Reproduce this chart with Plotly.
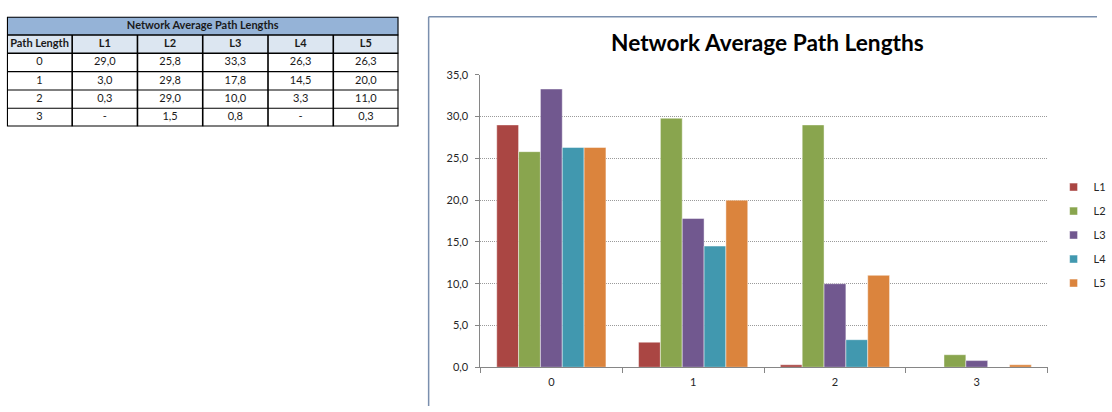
import plotly.graph_objects as go

# ---- data ----
path_lengths = ["0", "1", "2", "3"]
series_names = ["L1", "L2", "L3", "L4", "L5"]
L1 = [29.0, 3.0, 0.3, 0.0]
L2 = [25.8, 29.8, 29.0, 1.5]
L3 = [33.3, 17.8, 10.0, 0.8]
L4 = [26.3, 14.5, 3.3, 0.0]
L5 = [26.3, 20.0, 11.0, 0.3]
series_values = [L1, L2, L3, L4, L5]
colors = ["#AA4643", "#89A54E", "#71588F", "#4198AF", "#DB843D"]

TITLE = "Network Average Path Lengths"
FIRST_COL = "Path Length"
FONT = "Lato"
W, H = 1112, 412


def px_x(x):
    return x / W


def px_y(y):
    return 1 - y / H


def fmt(v):
    # accounting style: zero shown as a dash, comma as decimal mark
    return "-" if v == 0 else f"{v:.1f}".replace(".", ",")


fig = go.Figure()

# ---- bars ----
for name, vals, col in zip(series_names, series_values, colors):
    fig.add_trace(go.Bar(
        x=path_lengths, y=vals, name=name, showlegend=False,
        marker=dict(color=col, line=dict(color="rgba(255,255,255,0.45)", width=1)),
        xaxis="x", yaxis="y",
    ))

# legend entries with small square swatches
for name, col in zip(series_names, colors):
    fig.add_trace(go.Scatter(
        x=[None], y=[None], mode="markers", name=name,
        legendgroup=name,
        marker=dict(symbol="square", size=8, color=col,
                    line=dict(color="rgba(255,255,255,0.5)", width=1)),
        xaxis="x", yaxis="y",
    ))

# ---- data table on its own grid axes (column = x unit, row = y unit) ----
n_cols = 1 + len(series_names)
n_rows = 2 + len(path_lengths)          # title row, header row, data rows
columns = [path_lengths] + [[fmt(v) for v in vals] for vals in series_values]
heads = [FIRST_COL] + series_names

tx, ty, tt = [], [], []
for c, (head, col) in enumerate(zip(heads, columns)):
    tx.append(c + 0.5); ty.append(1.5); tt.append(f"<b>{head}</b>")
    for r, val in enumerate(col):
        tx.append(c + 0.5); ty.append(r + 2.5); tt.append(val)
tx.append(n_cols / 2); ty.append(0.5); tt.append(f"<b>{TITLE}</b>")

fig.add_trace(go.Scatter(
    x=tx, y=ty, text=tt, mode="text", showlegend=False, hoverinfo="skip",
    textfont=dict(family=FONT, size=11, color="#1a1a1a"),
    xaxis="x2", yaxis="y2",
))

tbl = dict(xref="x2", yref="y2", layer="above")
shapes = [
    dict(type="rect", x0=0, x1=n_cols, y0=0, y1=1, fillcolor="#95B3D7",
         line=dict(width=0), xref="x2", yref="y2", layer="below"),
    dict(type="rect", x0=0, x1=n_cols, y0=1, y1=2, fillcolor="#DCE6F1",
         line=dict(width=0), xref="x2", yref="y2", layer="below"),
]
for c in range(1, n_cols):
    shapes.append(dict(type="line", x0=c, x1=c, y0=1, y1=n_rows,
                       line=dict(color="black", width=1.6), **tbl))
for r in range(1, n_rows):
    shapes.append(dict(type="line", x0=0, x1=n_cols, y0=r, y1=r,
                       line=dict(color="black", width=1.6 if r <= 2 else 1.1), **tbl))
shapes.append(dict(type="rect", x0=0, x1=n_cols, y0=0, y1=n_rows,
                   line=dict(color="black", width=2.2), **tbl))

# chart frame (left and top edges run out of view)
frame = dict(color="#7A8FAE", width=1.5)
shapes += [
    dict(type="line", xref="paper", yref="paper",
         x0=px_x(434.5), x1=px_x(434.5), y0=0, y1=px_y(10), line=frame),
    dict(type="line", xref="paper", yref="paper",
         x0=px_x(434.5), x1=1, y0=px_y(10), y1=px_y(10), line=frame),
]

annotations = [
    dict(text=f"<b>{TITLE}</b>", xref="paper", yref="paper",
         x=px_x(778), y=px_y(37), showarrow=False,
         xanchor="center", yanchor="middle",
         font=dict(family=FONT, size=22.7, color="black")),
]

axis_col = "#868686"
hidden = dict(visible=False, showgrid=False, zeroline=False, fixedrange=True)
fig.update_layout(
    width=W, height=H, autosize=False,
    margin=dict(l=0, r=0, t=0, b=0),
    paper_bgcolor="white", plot_bgcolor="rgba(0,0,0,0)",
    separators=",.",
    font=dict(family=FONT, size=11, color="#262626"),
    barmode="group", bargap=0.23, bargroupgap=0,
    shapes=shapes, annotations=annotations,
    xaxis=dict(
        domain=[px_x(487), px_x(1062)],
        type="category", categoryorder="array", categoryarray=path_lengths,
        showline=True, linecolor=axis_col, linewidth=1,
        ticks="outside", tickson="boundaries", ticklen=5, tickcolor=axis_col,
        ticklabelstandoff=5,
        showgrid=False, tickfont=dict(size=11, color="#262626"),
    ),
    yaxis=dict(
        domain=[px_y(372), px_y(70)],
        range=[0, 35], dtick=5, tickformat=".1f",
        showline=True, linecolor=axis_col, linewidth=1,
        ticks="outside", ticklen=4, tickcolor=axis_col,
        ticklabelstandoff=5,
        showgrid=True, gridcolor="#9A9A9A", griddash="1px,1px", gridwidth=1,
        zeroline=False, tickfont=dict(size=11, color="#262626"),
    ),
    xaxis2=dict(domain=[px_x(7), px_x(404)], range=[0, n_cols],
                anchor="y2", **hidden),
    yaxis2=dict(domain=[px_y(123.5), px_y(10)], range=[n_rows, 0],
                anchor="x2", **hidden),
    legend=dict(
        x=px_x(1068), y=px_y(171), xanchor="left", yanchor="top",
        traceorder="grouped", tracegroupgap=5,
        font=dict(family=FONT, size=11, color="#262626"),
        bgcolor="rgba(0,0,0,0)",
    ),
)

fig.write_html("out.html", config={"responsive": False})
